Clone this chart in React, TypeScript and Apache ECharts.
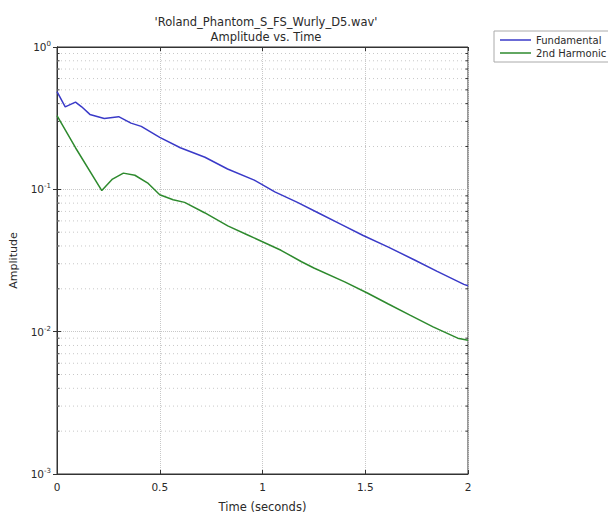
import React, { useEffect, useRef } from "react";
import * as echarts from "echarts";

const titleLines = ["'Roland_Phantom_S_FS_Wurly_D5.wav'", "Amplitude vs. Time"];
const seriesNames = ["Fundamental", "2nd Harmonic"];

const fundTimes = [0, 0.04, 0.09, 0.12, 0.16, 0.23, 0.30, 0.36, 0.41, 0.50, 0.60, 0.72, 0.83, 0.96, 1.06, 1.17, 1.27, 1.38, 1.49, 1.61, 1.74, 1.85, 1.98, 2.0];
const fundValues = [0.486, 0.38, 0.41, 0.38, 0.336, 0.315, 0.324, 0.292, 0.277, 0.232, 0.196, 0.168, 0.139, 0.116, 0.096, 0.081, 0.0685, 0.057, 0.0474, 0.0394, 0.0319, 0.0265, 0.0215, 0.021];

const harmTimes = [0, 0.09, 0.218, 0.27, 0.323, 0.379, 0.444, 0.50, 0.565, 0.621, 0.718, 0.831, 0.928, 1.09, 1.19, 1.25, 1.40, 1.51, 1.61, 1.72, 1.83, 1.95, 2.0];
const harmValues = [0.329, 0.196, 0.098, 0.118, 0.130, 0.1256, 0.110, 0.0915, 0.0846, 0.081, 0.0685, 0.0554, 0.0478, 0.0373, 0.031, 0.028, 0.0224, 0.0187, 0.0157, 0.013, 0.0108, 0.009, 0.0087];

const xTicks = [0, 0.5, 1, 1.5, 2];
const xMin = 0;
const xMax = 2;
const yMin = 0.001;
const yMax = 1;
const minorGridValues = [
  0.002, 0.003, 0.004, 0.005, 0.006, 0.007, 0.008, 0.009,
  0.02, 0.03, 0.04, 0.05, 0.06, 0.07, 0.08, 0.09,
  0.2, 0.3, 0.4, 0.5, 0.6, 0.7, 0.8, 0.9,
];

const FONT = "'DejaVu Sans', Arial, Helvetica, sans-serif";
const GRID_COLOR = "#c8c8c8";
const TEXT = "#2a2a2a";

export default function App() {
  const ref = useRef<HTMLDivElement>(null);
  useEffect(() => {
    if (!ref.current) return;
    const chart = echarts.init(ref.current, undefined, { renderer: "svg" });
    const gridLine = { show: true, lineStyle: { color: GRID_COLOR, type: "dotted" as const, width: 1 } };
    const supFormatter = (v: number) => {
      const e = Math.round(Math.log10(v));
      return `{b|10}{s|${e}}`;
    };
    chart.setOption({
      animation: false,
      backgroundColor: "#ffffff",
      textStyle: { fontFamily: FONT },
      title: {
        text: titleLines.join("\n"),
        left: 261,
        textAlign: "center",
        top: 9,
        textStyle: { fontFamily: FONT, fontSize: 11.5, fontWeight: "normal", color: TEXT, lineHeight: 15 },
      },
      legend: {
        orient: "vertical",
        left: 494,
        top: 31,
        data: seriesNames,
        icon: "rect",
        itemWidth: 31,
        itemHeight: 1.5,
        itemGap: 3,
        padding: [4, 20, 4, 6],
        borderColor: "#aaaaaa",
        borderWidth: 1,
        textStyle: { fontFamily: FONT, fontSize: 10, color: TEXT },
      },
      grid: { left: 55, right: 140, top: 47, bottom: 34, show: true, borderColor: "#333", borderWidth: 1 },
      xAxis: [
        {
          type: "value",
          min: xMin,
          max: xMax,
          interval: 0.5,
          name: "Time (seconds)",
          nameLocation: "middle",
          nameGap: 27,
          nameTextStyle: { fontFamily: FONT, fontSize: 11.5, color: TEXT },
          axisLine: { show: true, onZero: false, lineStyle: { color: "#333" } },
          axisTick: { show: true, inside: true, length: 4, lineStyle: { color: "#333" } },
          axisLabel: {
            fontFamily: FONT, fontSize: 10.5, color: TEXT, margin: 7,
            formatter: (v: number) => (xTicks.includes(v) ? String(v) : ""),
          },
          splitLine: gridLine,
        },
        {
          type: "value",
          position: "top",
          min: xMin,
          max: xMax,
          interval: 0.5,
          axisLine: { show: true, lineStyle: { color: "#333" } },
          axisTick: { show: true, inside: true, length: 4, lineStyle: { color: "#333" } },
          axisLabel: { show: false },
          splitLine: { show: false },
        },
      ],
      yAxis: [
        {
          type: "log",
          logBase: 10,
          min: yMin,
          max: yMax,
          name: "Amplitude",
          nameLocation: "middle",
          nameGap: 38,
          nameTextStyle: { fontFamily: FONT, fontSize: 11, color: TEXT },
          axisLine: { show: true, onZero: false, lineStyle: { color: "#333" } },
          axisTick: { show: true, inside: true, length: 4, lineStyle: { color: "#333" } },
          axisLabel: {
            fontFamily: FONT, color: TEXT, margin: 6,
            formatter: supFormatter,
            rich: {
              b: { fontFamily: FONT, fontSize: 10.5, color: TEXT },
              s: { fontFamily: FONT, fontSize: 7, color: TEXT, verticalAlign: "top", padding: [0, 0, 6, 0] },
            },
          },
          splitLine: gridLine,
        },
        {
          type: "log",
          logBase: 10,
          min: yMin,
          max: yMax,
          position: "right",
          axisLine: { show: true, lineStyle: { color: "#333" } },
          axisTick: { show: true, inside: true, length: 4, lineStyle: { color: "#333" } },
          axisLabel: { show: false },
          splitLine: { show: false },
        },
      ],
      series: [
        {
          type: "custom",
          name: "minorGrid",
          silent: true,
          clip: false,
          z: 1,
          data: minorGridValues.map((v) => [xMin, v]),
          renderItem: (params: any, api: any) => {
            const v = api.value(1);
            const p1 = api.coord([xMin, v]);
            const p2 = api.coord([xMax, v]);
            return {
              type: "group",
              children: [
                {
                  type: "line",
                  shape: { x1: p1[0], y1: p1[1], x2: p2[0], y2: p2[1] },
                  style: { stroke: GRID_COLOR, lineWidth: 1, lineDash: [1, 3] },
                },
                {
                  type: "line",
                  shape: { x1: p1[0], y1: p1[1], x2: p1[0] + 2.5, y2: p1[1] },
                  style: { stroke: "#333", lineWidth: 1 },
                },
                {
                  type: "line",
                  shape: { x1: p2[0] - 2.5, y1: p2[1], x2: p2[0], y2: p2[1] },
                  style: { stroke: "#333", lineWidth: 1 },
                },
              ],
            };
          },
        },
        {
          name: seriesNames[0],
          type: "line",
          data: fundTimes.map((t, i) => [t, fundValues[i]]),
          showSymbol: false,
          symbol: "none",
          lineStyle: { color: "#3a3ac8", width: 1.5 },
          itemStyle: { color: "#3a3ac8" },
          z: 5,
        },
        {
          name: seriesNames[1],
          type: "line",
          data: harmTimes.map((t, i) => [t, harmValues[i]]),
          showSymbol: false,
          symbol: "none",
          lineStyle: { color: "#2e8a2e", width: 1.5 },
          itemStyle: { color: "#2e8a2e" },
          z: 5,
        },
      ],
    });
    return () => chart.dispose();
  }, []);
  return <div ref={ref} style={{ position: "fixed", left: 0, top: 0, width: 608, height: 518 }} />;
}
